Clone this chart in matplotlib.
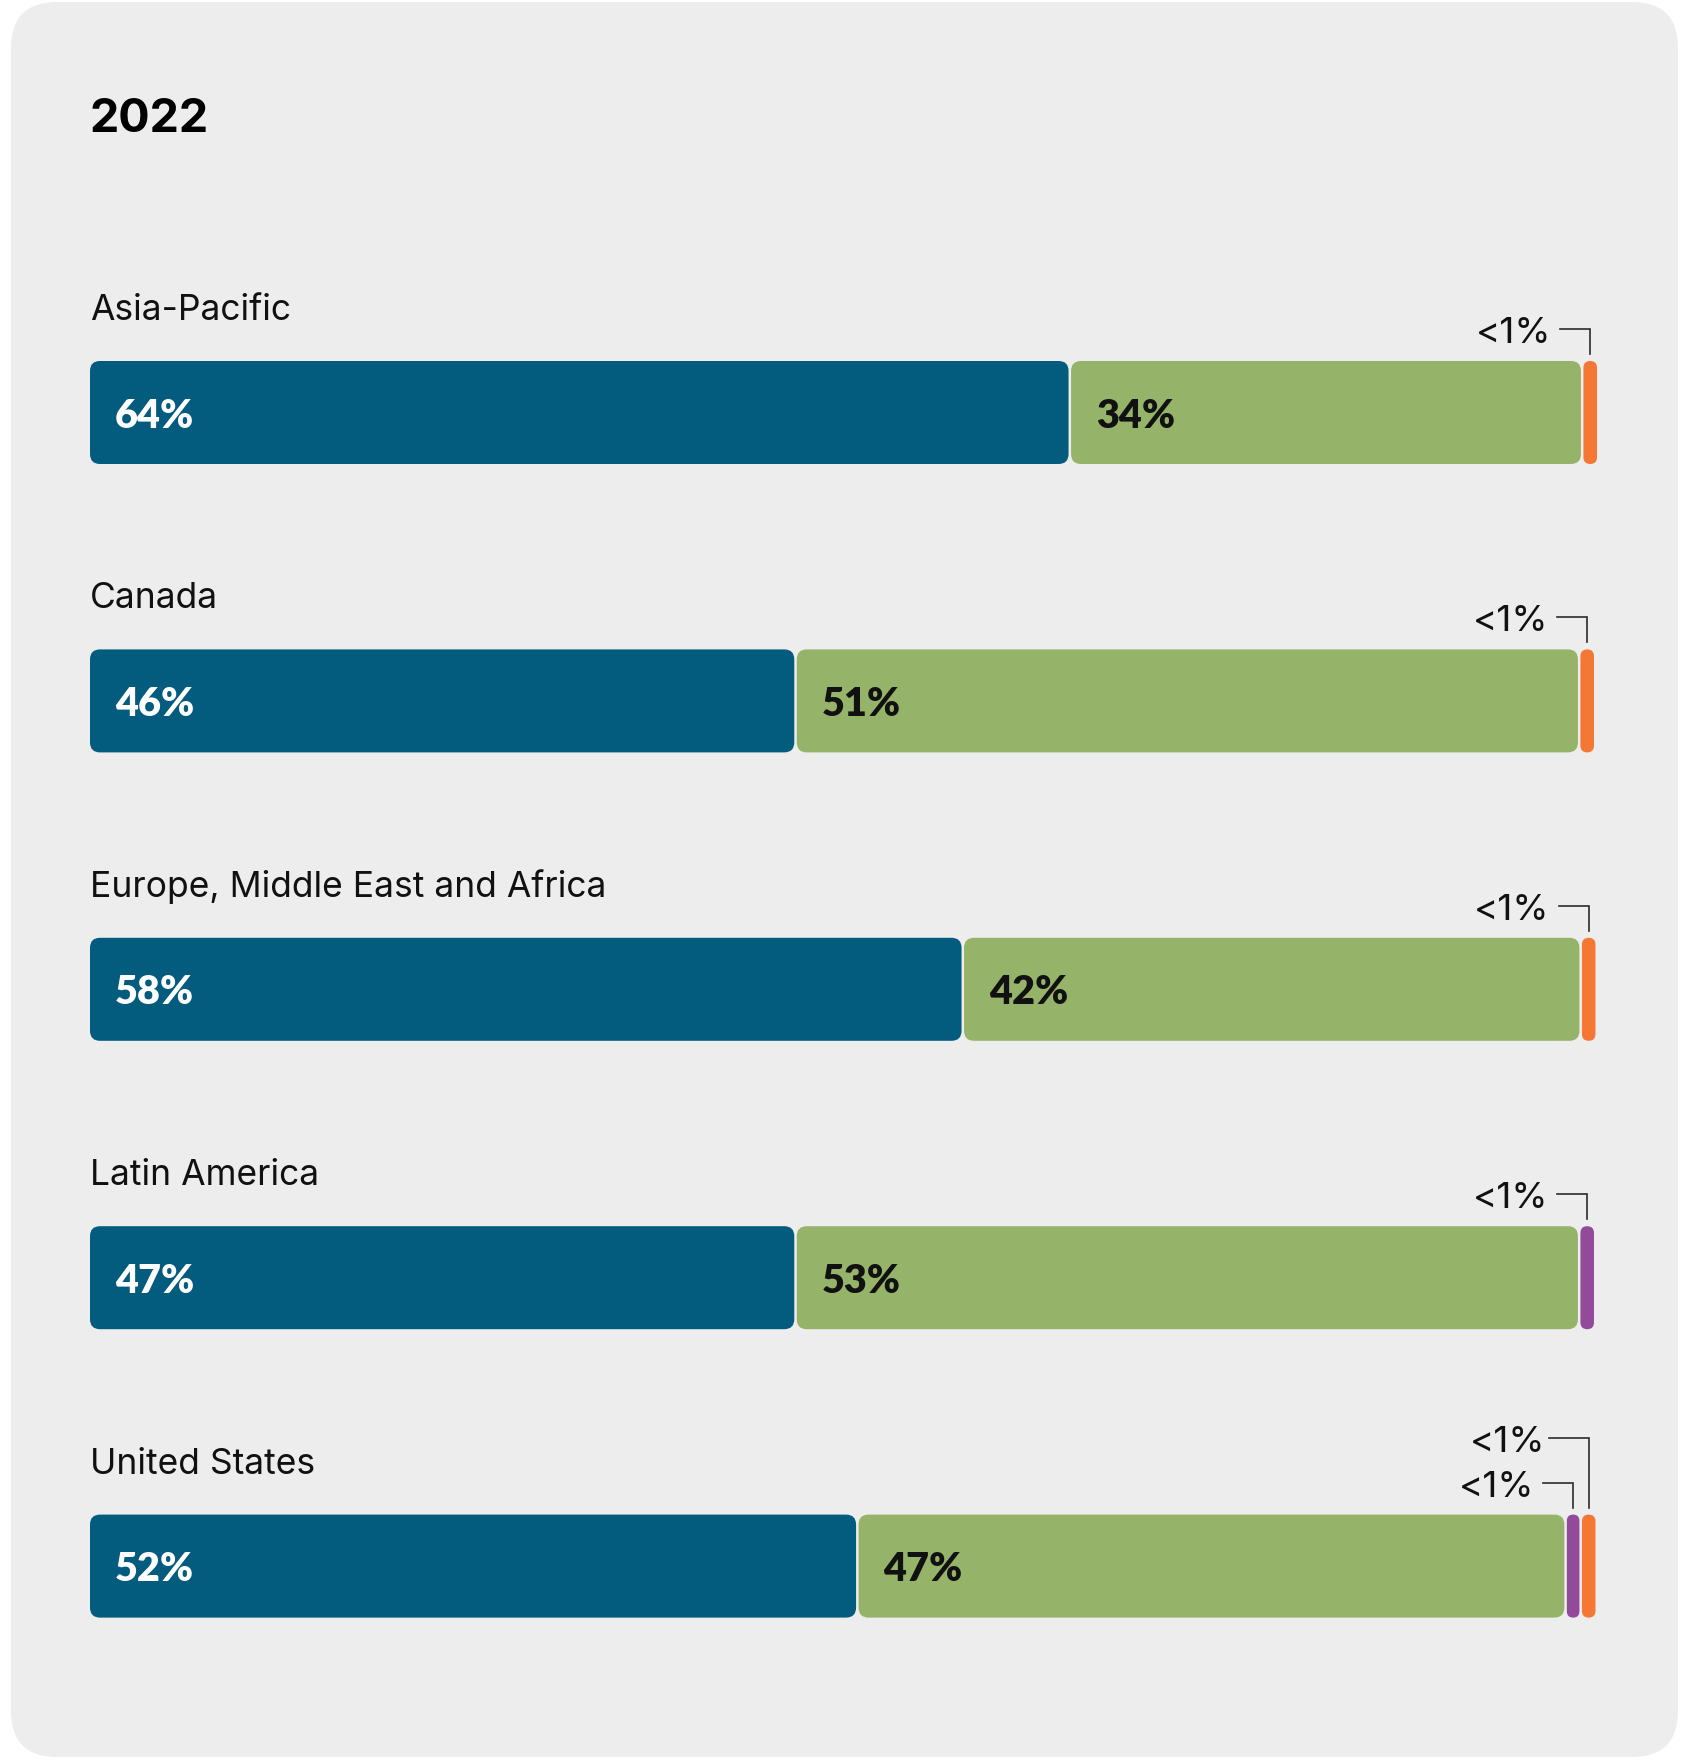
import matplotlib.pyplot as plt
from matplotlib.patches import FancyBboxPatch

title = "2022"
regions = [
    "Asia-Pacific",
    "Canada",
    "Europe, Middle East and Africa",
    "Latin America",
    "United States",
]

# bar widths (% of the full bar length)
blue_share = [65.1, 46.9, 58.0, 46.9, 51.0]
green_share = [34.0, 52.0, 41.0, 52.0, 47.0]
purple_share = [0.0, 0.0, 0.0, 0.9, 1.0]
orange_share = [0.9, 0.9, 0.9, 0.0, 0.9]

# printed labels
blue_labels = ["64%", "46%", "58%", "47%", "52%"]
green_labels = ["34%", "51%", "42%", "53%", "47%"]
small_label = "<1%"

BLUE = "#035c7e"
GREEN = "#95b469"
PURPLE = "#934a9b"
ORANGE = "#f47736"
PANEL = "#ecedec"
INK = "#111111"

W, H = 1697, 1760
fig = plt.figure(figsize=(W / 100, H / 100), dpi=100)
fig.patch.set_facecolor("white")

# rounded grey card behind everything
card = FancyBboxPatch(
    (11 / W, 3 / H), 1667 / W, 1755 / H,
    boxstyle=f"round,pad=0,rounding_size={46 / W}",
    mutation_aspect=W / H,
    transform=fig.transFigure,
    facecolor=PANEL, edgecolor="none", zorder=0,
)
fig.add_artist(card)

fig.text(89 / W, 1 - 132 / H, title, fontsize=33.5, fontweight="bold",
         family="Inter", color="black", va="baseline", ha="left")

# layout (pixels)
left_px, bar_len_px = 90, 1507
top_px, row_px = 268.3, 288.4
n = len(regions)
ax = fig.add_axes([left_px / W, (H - top_px - row_px * n) / H,
                   bar_len_px / W, row_px * n / H])
ax.set_xlim(0, 100)
ax.set_ylim(n - 0.5, -0.5)
ax.axis("off")

p0 = ax.transData.transform((0, 0))
p1 = ax.transData.transform((1, 1))
ppx = abs(p1[0] - p0[0])
ppy = abs(p1[1] - p0[1])

bar_h = 103 / ppy
gap = 2.5 / ppx


def draw_segment(x0, w, y, color, last):
    width = w if last else w - gap
    r = min(10, width * ppx / 2) / ppx
    patch = FancyBboxPatch(
        (x0, y - bar_h / 2), width, bar_h,
        boxstyle=f"round,pad=0,rounding_size={r}",
        mutation_aspect=ppx / ppy,
        facecolor=color, edgecolor="none", zorder=2,
    )
    ax.add_patch(patch)
    return x0 + width / 2


for i, name in enumerate(regions):
    bar_top = i - bar_h / 2
    ax.text(0, bar_top - 41 / ppy, name, fontsize=25.5, family="Inter",
            color=INK, va="baseline", ha="left")

    segs = [(blue_share[i], BLUE), (green_share[i], GREEN),
            (purple_share[i], PURPLE), (orange_share[i], ORANGE)]
    segs = [(v, c) for v, c in segs if v > 0]

    x = 0.0
    centers = []
    for k, (v, c) in enumerate(segs):
        cx = draw_segment(x, v, i, c, k == len(segs) - 1)
        if c in (PURPLE, ORANGE):
            centers.append(cx)
        x += v

    ax.text(25 / ppx, i + 15 / ppy, blue_labels[i], fontsize=28.5,
            family="Lato", fontweight="heavy", color="white",
            va="baseline", ha="left", zorder=3)
    ax.text(blue_share[i] + 25 / ppx, i + 15 / ppy, green_labels[i],
            fontsize=28.5, family="Lato", fontweight="heavy", color=INK,
            va="baseline", ha="left", zorder=3)

    # "<1%" call-outs with elbow connectors
    for level, cx in enumerate(centers):
        if level == 0:
            line_up, text_up, text_gap, line_gap = 32, 18, 39, 30
        else:
            line_up, text_up, text_gap, line_gap = 77, 63, 43, 40
        ly = bar_top - line_up / ppy
        ax.plot([cx - line_gap / ppx, cx, cx],
                [ly, ly, bar_top - 7 / ppy],
                color="#2b2b2b", lw=1.2, clip_on=False, zorder=3,
                solid_joinstyle="miter")
        ax.text(cx - text_gap / ppx, bar_top - text_up / ppy, small_label,
                fontsize=26.5, family="Inter", color=INK,
                va="baseline", ha="right")

fig.savefig("out.png", dpi=100, facecolor="white")
